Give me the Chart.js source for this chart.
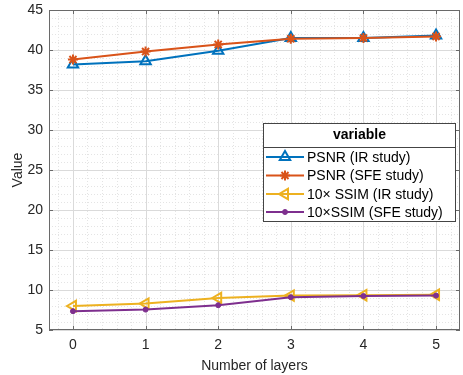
<!DOCTYPE html>
<html>
<head>
<meta charset="utf-8">
<script src="https://cdn.jsdelivr.net/npm/chart.js@4.4.1/dist/chart.umd.min.js"></script>
<style>
  html, body { margin: 0; padding: 0; background: #fff; }
  #wrap { width: 463px; height: 375px; }
</style>
</head>
<body>
<div id="wrap"><canvas id="chart" width="463" height="375"></canvas></div>
<script>
const layers = [0, 1, 2, 3, 4, 5];
const psnrIR = [38.2, 38.6, 39.9, 41.5, 41.5, 41.8];
const psnrSFE = [38.8, 39.8, 40.7, 41.4, 41.5, 41.7];
const ssimIR = [8.0, 8.3, 9.0, 9.3, 9.35, 9.4];
const ssimSFE = [7.35, 7.55, 8.1, 9.1, 9.25, 9.3];
const xTicks = [0, 1, 2, 3, 4, 5];
const yTicks = [5, 10, 15, 20, 25, 30, 35, 40, 45];
const seriesNames = ["PSNR (IR study)", "PSNR (SFE study)", "10\u00d7 SSIM (IR study)", "10\u00d7SSIM (SFE study)"];

const FONT = "'Liberation Sans', Arial, Helvetica, sans-serif";

const toPoints = (vals) => layers.map((x, i) => ({ x: x, y: vals[i] }));

// minor/major grid, axis box and inward ticks, like a MATLAB axes
const axesBox = {
  id: "axesBox",
  beforeDraw(chart) {
    const ctx = chart.ctx;
    ctx.save();
    ctx.fillStyle = "#fff";
    ctx.fillRect(0, 0, chart.width, chart.height);
    ctx.restore();
  },
  beforeDatasetsDraw(chart) {
    const { ctx, chartArea: a, scales } = chart;
    const xs = scales.x, ys = scales.y;
    ctx.save();
    ctx.lineWidth = 1;
    // minor
    ctx.strokeStyle = "#e4e4e4";
    ctx.setLineDash([1, 2]);
    for (let v = -0.2; v <= 5.3; v += 0.2) {
      if (Math.abs(v - Math.round(v)) < 1e-6) continue;
      const px = Math.round(xs.getPixelForValue(v)) + 0.5;
      ctx.beginPath(); ctx.moveTo(px, a.top); ctx.lineTo(px, a.bottom); ctx.stroke();
    }
    for (let v = 6; v < 45; v += 1) {
      if (v % 5 === 0) continue;
      const py = Math.round(ys.getPixelForValue(v)) + 0.5;
      ctx.beginPath(); ctx.moveTo(a.left, py); ctx.lineTo(a.right, py); ctx.stroke();
    }
    // major
    ctx.setLineDash([]);
    ctx.strokeStyle = "#dadada";
    xTicks.forEach((v) => {
      const px = Math.round(xs.getPixelForValue(v)) + 0.5;
      ctx.beginPath(); ctx.moveTo(px, a.top); ctx.lineTo(px, a.bottom); ctx.stroke();
    });
    yTicks.forEach((v) => {
      const py = Math.round(ys.getPixelForValue(v)) + 0.5;
      ctx.beginPath(); ctx.moveTo(a.left, py); ctx.lineTo(a.right, py); ctx.stroke();
    });
    // box + ticks
    ctx.strokeStyle = "#6a6a6a";
    ctx.strokeRect(Math.round(a.left) + 0.5, Math.round(a.top) + 0.5,
      Math.round(a.right - a.left) - 1, Math.round(a.bottom - a.top) - 1);
    const tl = 4;
    xTicks.forEach((v) => {
      const px = Math.round(xs.getPixelForValue(v)) + 0.5;
      ctx.beginPath();
      ctx.moveTo(px, a.bottom); ctx.lineTo(px, a.bottom - tl);
      ctx.moveTo(px, a.top); ctx.lineTo(px, a.top + tl);
      ctx.stroke();
    });
    yTicks.forEach((v) => {
      const py = Math.round(ys.getPixelForValue(v)) + 0.5;
      ctx.beginPath();
      ctx.moveTo(a.left, py); ctx.lineTo(a.left + tl, py);
      ctx.moveTo(a.right, py); ctx.lineTo(a.right - tl, py);
      ctx.stroke();
    });
    ctx.restore();
  },
};

// boxed legend with a bold title, placed inside the axes
const boxLegend = {
  id: "boxLegend",
  afterDatasetsDraw(chart) {
    const ctx = chart.ctx;
    const L = 263, T = 123, R = 456, B = 222;
    ctx.save();
    ctx.fillStyle = "#fff";
    ctx.fillRect(L, T, R - L, B - T);
    ctx.strokeStyle = "#444";
    ctx.lineWidth = 1;
    ctx.strokeRect(L + 0.5, T + 0.5, R - L - 1, B - T - 1);
    ctx.beginPath(); ctx.moveTo(L, 147.5); ctx.lineTo(R, 147.5); ctx.stroke();

    ctx.fillStyle = "#000";
    ctx.font = "bold 14px " + FONT;
    ctx.textAlign = "center";
    ctx.textBaseline = "middle";
    ctx.fillText("variable", (L + R) / 2, 135);

    const rows = [157, 175.5, 194, 212];
    ctx.font = "14px " + FONT;
    ctx.textAlign = "left";
    chart.data.datasets.forEach((ds, i) => {
      const y = rows[i];
      ctx.strokeStyle = ds.borderColor;
      ctx.lineWidth = ds.borderWidth;
      ctx.beginPath(); ctx.moveTo(266, y); ctx.lineTo(304, y); ctx.stroke();
      ctx.fillStyle = ds.pointBackgroundColor;
      ctx.strokeStyle = ds.borderColor;
      ctx.lineWidth = ds.pointBorderWidth;
      Chart.helpers.drawPoint(ctx, {
        pointStyle: ds.pointStyle,
        rotation: ds.pointRotation || 0,
        radius: ds.pointRadius,
        borderWidth: ds.pointBorderWidth,
      }, 285, y);
      ctx.fillStyle = "#000";
      ctx.fillText(seriesNames[i], 307, y + 1);
    });
    ctx.restore();
  },
};

const ctx = document.getElementById("chart").getContext("2d");

new Chart(ctx, {
  type: "line",
  data: {
    datasets: [
      {
        label: seriesNames[0],
        data: toPoints(psnrIR),
        borderColor: "#0072BD",
        backgroundColor: "#0072BD",
        pointBackgroundColor: "rgba(0,0,0,0)",
        borderWidth: 2,
        pointStyle: "triangle",
        pointRadius: 6,
        pointBorderWidth: 2,
        order: 4,
      },
      {
        label: seriesNames[1],
        data: toPoints(psnrSFE),
        borderColor: "#D95319",
        backgroundColor: "#D95319",
        pointBackgroundColor: "rgba(0,0,0,0)",
        borderWidth: 2,
        pointStyle: "star",
        pointRadius: 5,
        pointBorderWidth: 2,
        order: 3,
      },
      {
        label: seriesNames[2],
        data: toPoints(ssimIR),
        borderColor: "#EDB120",
        backgroundColor: "#EDB120",
        pointBackgroundColor: "rgba(0,0,0,0)",
        borderWidth: 2,
        pointStyle: "triangle",
        pointRotation: -90,
        pointRadius: 6,
        pointBorderWidth: 2,
        order: 2,
      },
      {
        label: seriesNames[3],
        data: toPoints(ssimSFE),
        borderColor: "#7E2F8E",
        backgroundColor: "#7E2F8E",
        pointBackgroundColor: "#7E2F8E",
        borderWidth: 2,
        pointStyle: "circle",
        pointRadius: 2.5,
        pointBorderWidth: 1,
        order: 1,
      },
    ],
  },
  options: {
    responsive: false,
    animation: false,
    layout: { autoPadding: false, padding: { top: 10, right: 3, left: 0, bottom: 0 } },
    elements: { line: { tension: 0 } },
    plugins: {
      legend: { display: false },
      tooltip: { enabled: false },
    },
    scales: {
      x: {
        type: "linear",
        min: -0.33,
        max: 5.33,
        afterBuildTicks: (s) => { s.ticks = xTicks.map((v) => ({ value: v })); },
        afterFit: (s) => {
          s.height = 45;
          s.paddingLeft = 0; s.paddingRight = 0;
        },
        grid: { display: false, drawTicks: false },
        border: { display: false },
        ticks: {
          color: "#262626",
          padding: 7,
          font: { size: 14, family: FONT },
        },
        title: {
          display: true,
          text: "Number of layers",
          color: "#262626",
          padding: { top: 1, bottom: 0 },
          font: { size: 14, family: FONT },
        },
      },
      y: {
        min: 5,
        max: 45,
        afterBuildTicks: (s) => { s.ticks = yTicks.map((v) => ({ value: v })); },
        afterFit: (s) => {
          s.width = 49;
          s.paddingTop = 0; s.paddingBottom = 0;
        },
        grid: { display: false, drawTicks: false },
        border: { display: false },
        ticks: {
          color: "#262626",
          padding: 6,
          font: { size: 14, family: FONT },
        },
        title: {
          display: true,
          text: "Value",
          color: "#262626",
          padding: { top: 10, bottom: 0 },
          font: { size: 14, family: FONT },
        },
      },
    },
  },
  plugins: [axesBox, boxLegend],
});
</script>
</body>
</html>
